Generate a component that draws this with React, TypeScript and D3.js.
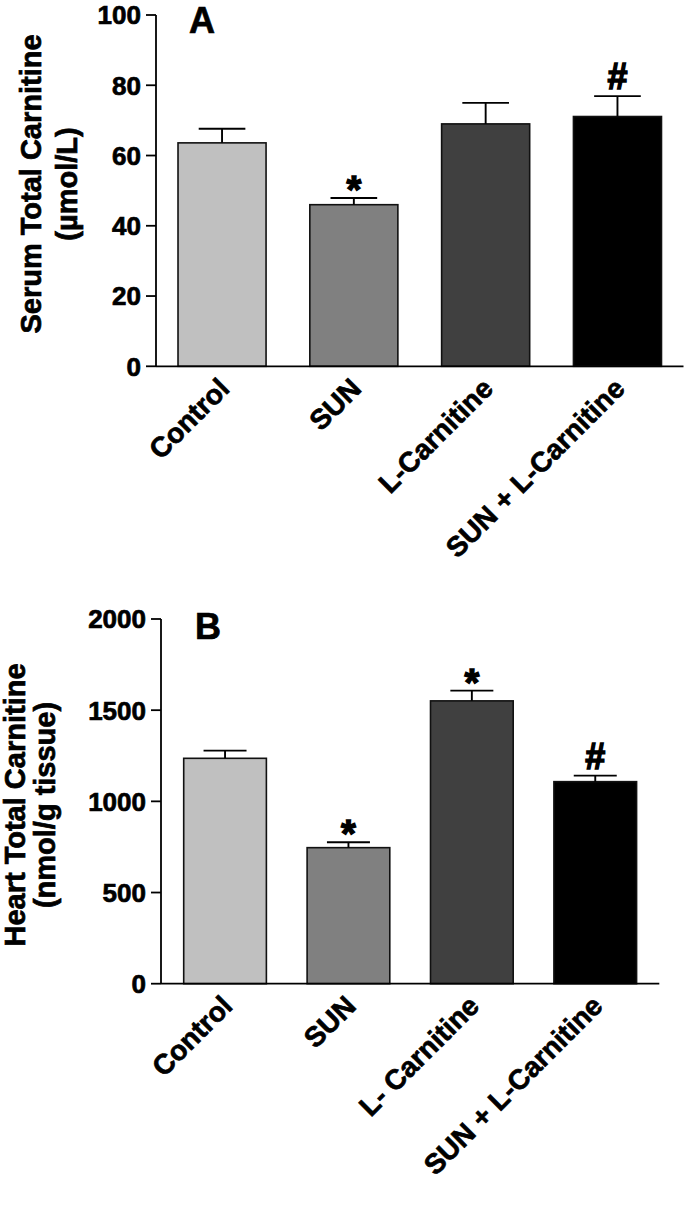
import React from "react";
import * as d3 from "d3";

const categoriesA = ["Control", "SUN", "L-Carnitine", "SUN + L-Carnitine"];
const meansA = [63.6, 46.0, 69.0, 71.1];
const errA = [4.0, 1.9, 6.0, 5.8];
const marksA = ["", "*", "", "#"];
const ticksA = [0, 20, 40, 60, 80, 100];

const categoriesB = ["Control", "SUN", "L- Carnitine", "SUN + L-Carnitine"];
const meansB = [1236, 746, 1551, 1108];
const errB = [42, 30, 56, 33];
const marksB = ["", "*", "*", "#"];
const ticksB = [0, 500, 1000, 1500, 2000];

const colors = ["#c0c0c0", "#808080", "#404040", "#000000"];
const FONT = "'Liberation Sans', Arial, Helvetica, sans-serif";

type PanelProps = {
  cats: string[];
  means: number[];
  errs: number[];
  marks: string[];
  ticks: number[];
  yMax: number;
  axisX: number;
  y0: number;
  y1: number;
  xEnd: number;
  paddingInner: number;
  paddingOuter: number;
  letter: string;
  letterX: number;
  letterY: number;
  title1: string;
  title2: string;
  t1x: number;
  t2x: number;
  titleY: number;
  capFrac: number;
};

function Panel(p: PanelProps) {
  const y = d3.scaleLinear().domain([0, p.yMax]).range([p.y0, p.y1]);
  const x = d3
    .scaleBand<string>()
    .domain(p.cats)
    .range([p.axisX, p.xEnd])
    .paddingInner(p.paddingInner)
    .paddingOuter(p.paddingOuter);
  const bw = x.bandwidth();
  const tickLen = 10;
  const ts = { stroke: "#000", strokeWidth: 0.7 };
  return (
    <g fontFamily={FONT} fontWeight="bold">
      {p.cats.map((c, i) => (
        <rect
          key={"b" + i}
          x={x(c)}
          y={y(p.means[i])}
          width={bw}
          height={y(0) - y(p.means[i])}
          fill={colors[i]}
          stroke="#111"
          strokeWidth={1.6}
        />
      ))}
      {p.cats.map((c, i) => {
        const cx = (x(c) as number) + bw / 2;
        const top = y(p.means[i] + p.errs[i]);
        const capW = bw * p.capFrac;
        return (
          <g key={"e" + i} stroke="#000" strokeWidth={1.9}>
            <line x1={cx} x2={cx} y1={y(p.means[i])} y2={top} />
            <line x1={cx - capW / 2} x2={cx + capW / 2} y1={top} y2={top} />
          </g>
        );
      })}
      {p.cats.map((c, i) => {
        if (!p.marks[i]) return null;
        const cx = (x(c) as number) + bw / 2;
        const top = y(p.means[i] + p.errs[i]);
        const by = p.marks[i] === "*" ? top + 5 : top - 7;
        return (
          <text key={"m" + i} x={cx} y={by} textAnchor="middle" fontSize={p.marks[i] === "*" ? 38 : 36} fill="#000" stroke="#000" strokeWidth={1.4}>
            {p.marks[i]}
          </text>
        );
      })}
      <line x1={p.axisX} x2={p.axisX} y1={p.y0} y2={p.y1} stroke="#000" strokeWidth={1.8} />
      <line x1={p.axisX} x2={p.xEnd} y1={p.y0} y2={p.y0} stroke="#000" strokeWidth={1.8} />
      {p.ticks.map((t) => (
        <g key={"t" + t}>
          <line x1={p.axisX - tickLen} x2={p.axisX} y1={y(t)} y2={y(t)} stroke="#000" strokeWidth={1.8} />
          <text x={p.axisX - tickLen - 5} y={y(t)} dy="0.36em" textAnchor="end" fontSize={26} fill="#000" {...ts}>
            {t}
          </text>
        </g>
      ))}
      {p.cats.map((c, i) => {
        const cx = (x(c) as number) + bw / 2 + 9;
        const ly = p.y0 + 24;
        return (
          <text
            key={"x" + i}
            x={cx}
            y={ly}
            textAnchor="end"
            fontSize={28}
            fill="#000"
            {...ts}
            transform={`rotate(-45, ${cx}, ${ly})`}
          >
            {c}
          </text>
        );
      })}
      <text
        x={p.t1x}
        y={p.titleY}
        textAnchor="middle"
        fontSize={29}
        fill="#000"
        {...ts}
        transform={`rotate(-90, ${p.t1x}, ${p.titleY})`}
      >
        {p.title1}
      </text>
      <text
        x={p.t2x}
        y={p.titleY}
        textAnchor="middle"
        fontSize={29}
        fill="#000"
        {...ts}
        transform={`rotate(-90, ${p.t2x}, ${p.titleY})`}
      >
        {p.title2}
      </text>
      <text x={p.letterX} y={p.letterY} fontSize={36} fill="#000" {...ts}>
        {p.letter}
      </text>
    </g>
  );
}

export default function App() {
  return (
    <svg
      width={685}
      height={1205}
      style={{ position: "absolute", left: 0, top: 0, background: "#fff" }}
    >
      <rect width={685} height={1205} fill="#fff" />
      <Panel
        cats={categoriesA}
        means={meansA}
        errs={errA}
        marks={marksA}
        ticks={ticksA}
        yMax={100}
        axisX={156}
        y0={366.3}
        y1={15}
        xEnd={683.5}
        paddingInner={0.332}
        paddingOuter={0.167}
        letter="A"
        letterX={189}
        letterY={33}
        title1="Serum Total Carnitine"
        title2="(µmol/L)"
        t1x={41}
        t2x={77}
        titleY={184}
        capFrac={0.53}
      />
      <Panel
        cats={categoriesB}
        means={meansB}
        errs={errB}
        marks={marksB}
        ticks={ticksB}
        yMax={2000}
        axisX={161}
        y0={983.7}
        y1={619}
        xEnd={659.3}
        paddingInner={0.33}
        paddingOuter={0.184}
        letter="B"
        letterX={195}
        letterY={639}
        title1="Heart Total Carnitine"
        title2="(nmol/g tissue)"
        t1x={25}
        t2x={55}
        titleY={805}
        capFrac={0.52}
      />
    </svg>
  );
}
